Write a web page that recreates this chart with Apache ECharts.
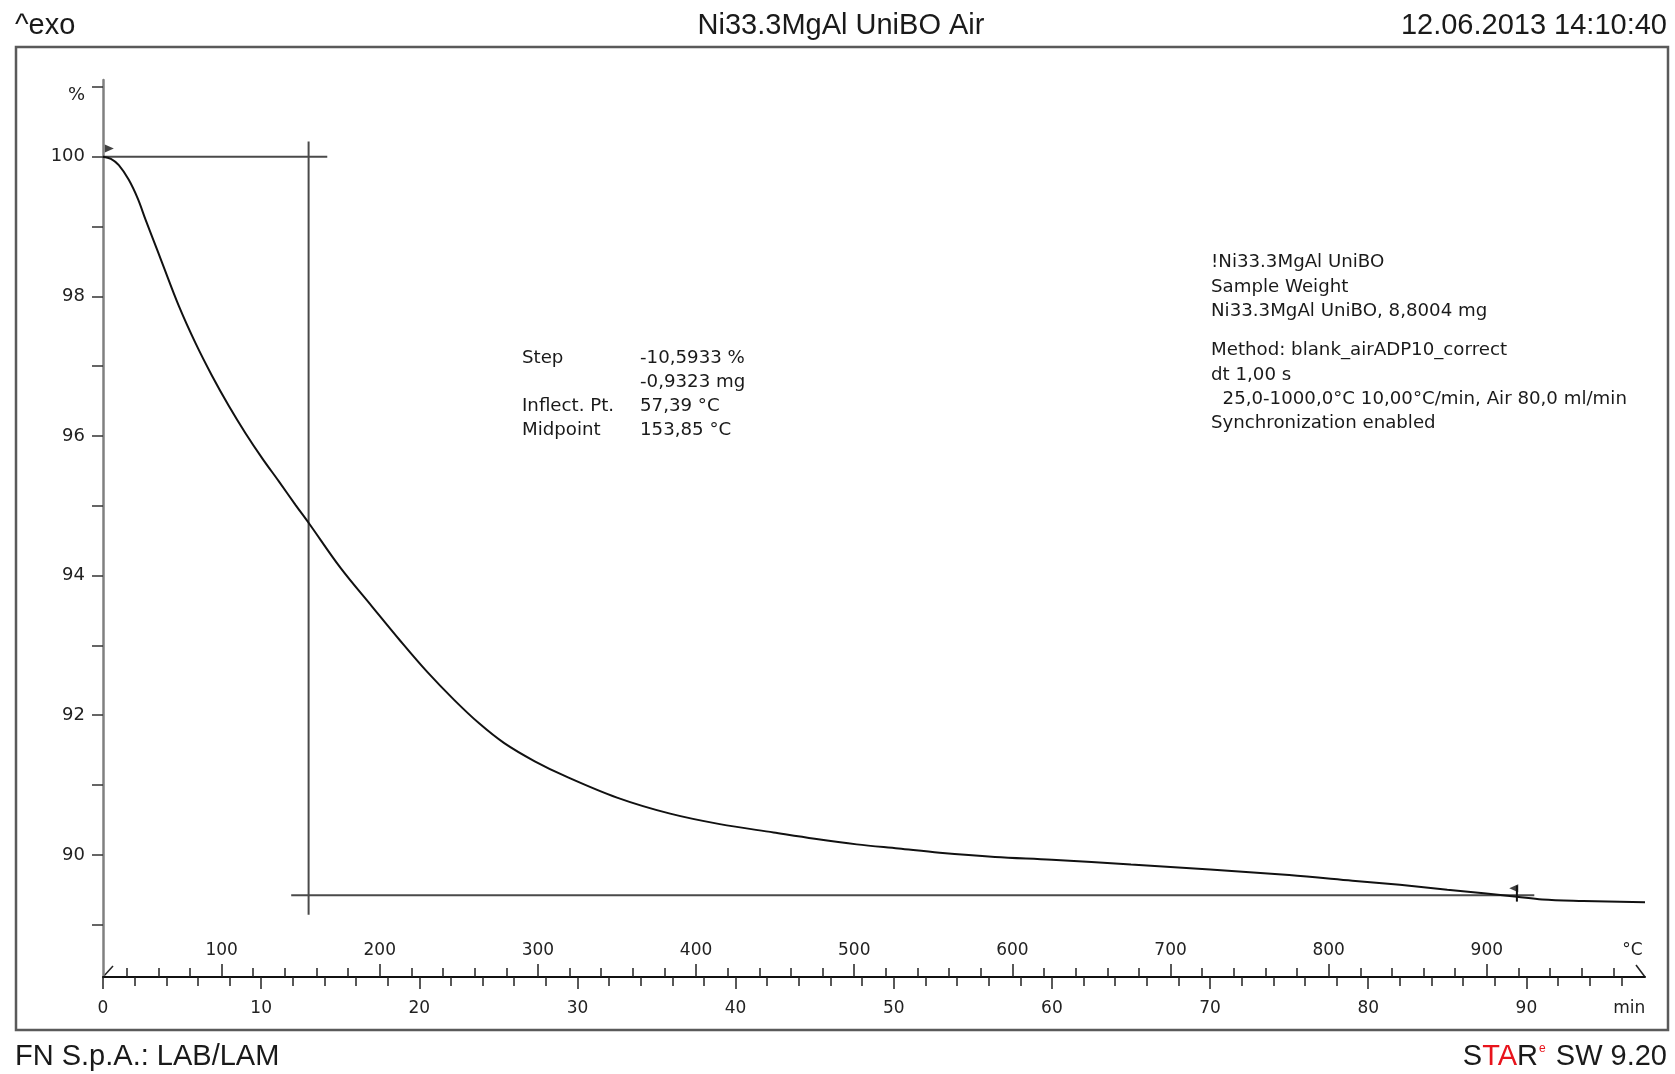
<!DOCTYPE html>
<html>
<head>
<meta charset="utf-8">
<title>Ni33.3MgAl UniBO Air</title>
<script src="https://cdn.jsdelivr.net/npm/echarts@6/dist/echarts.min.js"></script>
<style>
  html, body { margin: 0; padding: 0; background: #fff; }
  #main { width: 1675px; height: 1074px; }
</style>
</head>
<body>
<div id="main"></div>
<script>
// TGA curve: time (min) vs remaining mass (%)
var timeMin = [0, 0.5, 1.0, 1.63, 2.2, 2.69, 3.2, 3.74, 4.8, 5.85, 6.9, 7.96, 9.01, 10.07, 11.12, 12.18, 13.02,
  15.02, 17.0, 18.82, 20.5, 22.2, 23.8, 25.37, 27.3, 29.3, 32.5, 35.86, 39.0, 42.4, 45.0, 47.66, 50.3, 52.9,
  56.4, 60, 65, 70, 75, 79, 82, 85, 87.3, 89.4, 91, 93.6, 97.5];
var massPct = [100, 99.97, 99.88, 99.67, 99.40, 99.10, 98.80, 98.48, 97.86, 97.33, 96.86, 96.43, 96.04, 95.68, 95.35, 95.01, 94.75,
  94.11, 93.56, 93.06, 92.62, 92.22, 91.88, 91.60, 91.34, 91.12, 90.82, 90.59, 90.44, 90.32, 90.23, 90.15, 90.09, 90.03,
  89.97, 89.93, 89.86, 89.79, 89.71, 89.63, 89.57, 89.50, 89.45, 89.40, 89.36, 89.34, 89.32];

// step evaluation lines
var stepTopLine = [[0, 100], [14.18, 100]];
var stepBaseLine = [[11.9, 89.42], [90.5, 89.42]];
var midpointLine = [[13.0, 100.22], [13.0, 89.14]];
var limitTick = [[89.4, 89.56], [89.4, 89.33]];
var startFlag = [[0.4, 100.12]];
var endFlag = [[89.2, 89.52]];

// axes
var minLabels = [0, 10, 20, 30, 40, 50, 60, 70, 80, 90];
var minTicks = [2, 4, 6, 8, 12, 14, 16, 18, 22, 24, 26, 28, 32, 34, 36, 38, 42, 44, 46, 48, 52, 54, 56, 58,
  62, 64, 66, 68, 72, 74, 76, 78, 82, 84, 86, 88, 92, 94, 96];
var tempLabels = [100, 200, 300, 400, 500, 600, 700, 800, 900];
var tempTicks = [40, 60, 80, 120, 140, 160, 180, 220, 240, 260, 280, 320, 340, 360, 380, 420, 440, 460, 480,
  520, 540, 560, 580, 620, 640, 660, 680, 720, 740, 760, 780, 820, 840, 860, 880, 920, 940, 960, 980];
var pctLabels = [90, 92, 94, 96, 98, 100];
var pctTicks = [89, 90, 91, 92, 93, 94, 95, 96, 97, 98, 99, 100, 101];
var minUnitAt = 96.5, tempUnitAt = 992, pctUnitAt = 100.88;

var xMin = 0, xMax = 97.5, tMin = 25, tMax = 1000, yMin = 88.25, yMax = 101.1;

var labelFont = 'DejaVu Sans';
var headFont = '29px "Liberation Sans", Arial, sans-serif';
var noteFont = '18.2px "DejaVu Sans", Verdana, sans-serif';

var curve = timeMin.map(function (t, i) { return [t, massPct[i]]; });

function hiddenX(extra) {
  var a = {
    type: 'value', gridIndex: 0, position: 'bottom',
    axisLine: { show: false, onZero: false },
    axisLabel: { show: false },
    splitLine: { show: false }
  };
  for (var k in extra) a[k] = extra[k];
  return a;
}

var chart = echarts.init(document.getElementById('main'));

var evalStyle = { color: '#4a4a4a', width: 2 };

chart.setOption({
  animation: false,
  backgroundColor: '#fff',
  grid: { left: 103, right: 30, top: 80, bottom: 97 },
  xAxis: [
    {
      type: 'value', position: 'bottom', min: xMin, max: xMax,
      axisLine: { onZero: false, lineStyle: { color: '#111', width: 2 } },
      axisTick: { customValues: minTicks, length: 9, lineStyle: { color: '#222', width: 1.5 } },
      axisLabel: {
        customValues: minLabels.concat([minUnitAt]), margin: 23,
        fontFamily: labelFont, fontSize: 17, color: '#222',
        formatter: function (v) { return v === minUnitAt ? 'min' : String(v); }
      },
      splitLine: { show: false }
    },
    hiddenX({
      min: xMin, max: xMax,
      axisTick: { customValues: minLabels, length: 12, lineStyle: { color: '#222', width: 1.5 } }
    }),
    hiddenX({
      min: tMin, max: tMax,
      axisTick: { customValues: tempTicks, inside: true, length: 9, lineStyle: { color: '#222', width: 1.5 } },
      axisLabel: {
        show: true, inside: true, customValues: tempLabels.concat([tempUnitAt]), margin: 18,
        fontFamily: labelFont, fontSize: 17, color: '#222',
        formatter: function (v) { return v === tempUnitAt ? '°C' : String(v); }
      }
    }),
    hiddenX({
      min: tMin, max: tMax,
      axisTick: { customValues: tempLabels, inside: true, length: 13, lineStyle: { color: '#222', width: 1.5 } }
    })
  ],
  yAxis: {
    type: 'value', min: yMin, max: yMax,
    axisLine: { show: true, onZero: false, lineStyle: { color: '#808080', width: 2.5 } },
    axisTick: { customValues: pctTicks, length: 11, lineStyle: { color: '#333', width: 1.5 } },
    axisLabel: {
      customValues: pctLabels.concat([pctUnitAt]), margin: 18,
      fontFamily: labelFont, fontSize: 18, color: '#222',
      formatter: function (v) { return v === pctUnitAt ? '%' : String(v); }
    },
    splitLine: { show: false }
  },
  series: [
    { type: 'line', data: stepTopLine, showSymbol: false, lineStyle: evalStyle, z: 3 },
    { type: 'line', data: stepBaseLine, showSymbol: false, lineStyle: evalStyle, z: 3 },
    { type: 'line', data: midpointLine, showSymbol: false, lineStyle: evalStyle, z: 3 },
    { type: 'line', data: limitTick, showSymbol: false, lineStyle: { color: '#111', width: 2 }, z: 4 },
    {
      type: 'line', data: curve, showSymbol: false, smooth: 0.35,
      lineStyle: { color: '#111', width: 2 }, z: 5
    },
    { type: 'scatter', data: startFlag, symbol: 'triangle', symbolSize: [8, 9], symbolRotate: -90,
      itemStyle: { color: '#111' }, z: 6 },
    { type: 'scatter', data: endFlag, symbol: 'triangle', symbolSize: [8, 9], symbolRotate: 90,
      itemStyle: { color: '#111' }, z: 6 }
  ]
});

// axis break slashes at both ends of the temperature scale
var p0 = chart.convertToPixel({ xAxisIndex: 0, yAxisIndex: 0 }, [xMin, yMin]);
var p1 = chart.convertToPixel({ xAxisIndex: 0, yAxisIndex: 0 }, [xMax, yMin]);

function txt(s, x, y, font, align) {
  return { type: 'text', x: x, y: y, silent: true,
    style: { text: s, font: font, fill: '#1a1a1a', textAlign: align || 'left', textVerticalAlign: 'middle' } };
}

chart.setOption({
  graphic: [
    { type: 'rect', shape: { x: 16, y: 47, width: 1652, height: 983 },
      style: { fill: 'none', stroke: '#5a5a5a', lineWidth: 2.5 }, silent: true },
    { type: 'line', shape: { x1: p0[0], y1: p0[1], x2: p0[0] + 10, y2: p0[1] - 11 },
      style: { stroke: '#222', lineWidth: 1.5 }, silent: true },
    { type: 'line', shape: { x1: p1[0] - 9, y1: p1[1] - 12, x2: p1[0], y2: p1[1] },
      style: { stroke: '#222', lineWidth: 1.5 }, silent: true },

    txt('^exo', 15, 26, headFont),
    txt('Ni33.3MgAl UniBO Air', 841, 26, headFont, 'center'),
    txt('12.06.2013 14:10:40', 1667, 26, headFont, 'right'),
    txt('FN S.p.A.: LAB/LAM', 15, 1057, headFont),
    { type: 'text', x: 1667, y: 1057, silent: true,
      style: {
        text: '{b|S}{r|TA}{b|R}{e|e}{b| SW 9.20}', textAlign: 'right', textVerticalAlign: 'middle',
        rich: {
          b: { font: headFont, fill: '#1a1a1a' },
          r: { font: headFont, fill: '#e8141c' },
          e: { font: '12px "Liberation Sans", Arial, sans-serif', fill: '#e8141c', verticalAlign: 'top', padding: [0, 2, 14, 1] }
        }
      } },

    txt('Step', 522, 358, noteFont),
    txt('-10,5933 %', 640, 358, noteFont),
    txt('-0,9323 mg', 640, 382, noteFont),
    txt('Inflect. Pt.', 522, 406, noteFont),
    txt('57,39 °C', 640, 406, noteFont),
    txt('Midpoint', 522, 430, noteFont),
    txt('153,85 °C', 640, 430, noteFont),

    txt('!Ni33.3MgAl UniBO', 1211, 262, noteFont),
    txt('Sample Weight', 1211, 287, noteFont),
    txt('Ni33.3MgAl UniBO, 8,8004 mg', 1211, 311, noteFont),
    txt('Method: blank_airADP10_correct', 1211, 350, noteFont),
    txt('dt 1,00 s', 1211, 375, noteFont),
    txt('  25,0-1000,0°C 10,00°C/min, Air 80,0 ml/min', 1211, 399, noteFont),
    txt('Synchronization enabled', 1211, 423, noteFont)
  ]
});
</script>
</body>
</html>
